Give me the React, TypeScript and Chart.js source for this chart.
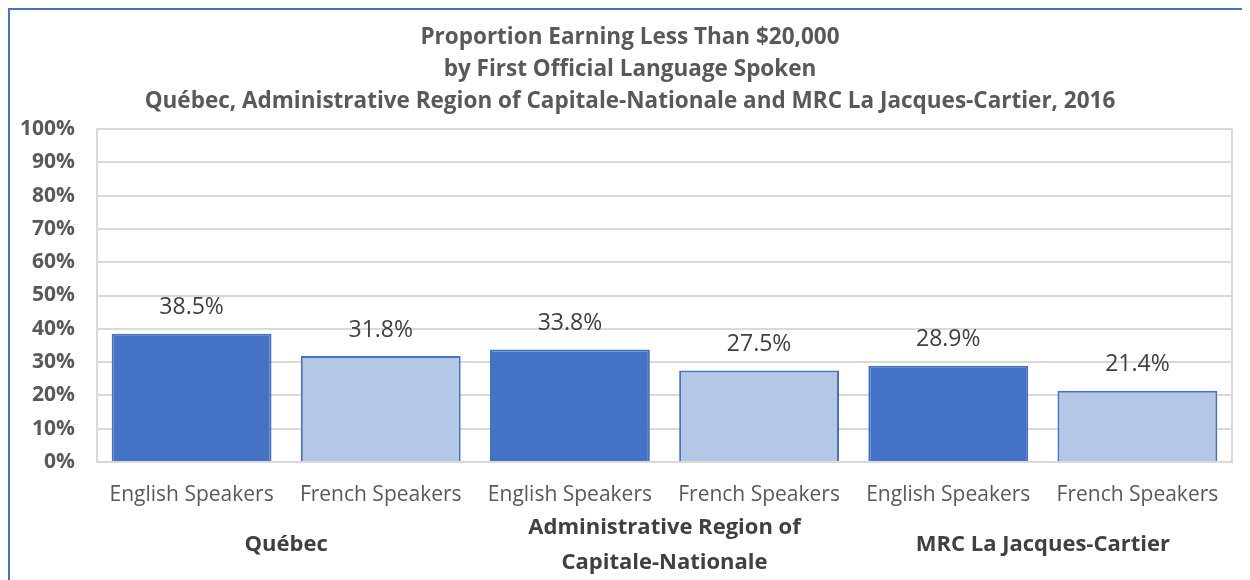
import React, { useEffect, useRef } from "react";
import { Chart, registerables } from "chart.js";

Chart.register(...registerables);

const titleLines = [
  "Proportion Earning Less Than $20,000",
  "by First Official Language Spoken",
  "Québec, Administrative Region of Capitale-Nationale and MRC La Jacques-Cartier, 2016",
];
const categories = [
  "English Speakers",
  "French Speakers",
  "English Speakers",
  "French Speakers",
  "English Speakers",
  "French Speakers",
];
const groupLabels: (string | string[])[] = [
  "Québec",
  ["Administrative Region of", "Capitale-Nationale"],
  "MRC La Jacques-Cartier",
];
const values = [38.5, 31.8, 33.8, 27.5, 28.9, 21.4];
const barColors = ["#4472C4", "#B4C7E7", "#4472C4", "#B4C7E7", "#4472C4", "#B4C7E7"];

const FONT = "'Open Sans', 'Noto Sans', sans-serif";
const GRAY = "#595959";

const dataLabels = {
  id: "dataLabels",
  afterDatasetsDraw(chart: any) {
    const ctx = chart.ctx;
    const meta = chart.getDatasetMeta(0);
    ctx.save();
    ctx.font = `23px ${FONT}`;
    ctx.fillStyle = "#404040";
    ctx.textAlign = "center";
    ctx.textBaseline = "middle";
    meta.data.forEach((bar: any, i: number) => {
      ctx.fillText(values[i].toFixed(1) + "%", bar.x, bar.y - 26);
    });
    ctx.restore();
  },
};

const plotBorder = {
  id: "plotBorder",
  afterDraw(chart: any) {
    const { ctx, chartArea } = chart;
    ctx.save();
    ctx.strokeStyle = "#D9D9D9";
    ctx.lineWidth = 2;
    ctx.beginPath();
    ctx.moveTo(chartArea.right, chartArea.top);
    ctx.lineTo(chartArea.right, chartArea.bottom);
    ctx.stroke();
    ctx.restore();
  },
};

export default function App() {
  const ref = useRef<HTMLCanvasElement | null>(null);
  useEffect(() => {
    if (!ref.current) return;
    const chart = new Chart(ref.current, {
      type: "bar",
      data: {
        labels: categories,
        datasets: [
          {
            data: values,
            backgroundColor: barColors,
            borderColor: "#4472C4",
            borderWidth: 2,
            barPercentage: 0.845,
            categoryPercentage: 1,
            xAxisID: "x",
            yAxisID: "y",
          },
        ],
      },
      options: {
        animation: false,
        responsive: false,
        maintainAspectRatio: false,
        layout: { padding: 0 },
        plugins: {
          legend: { display: false },
          tooltip: { enabled: false },
          title: {
            display: true,
            text: titleLines,
            color: GRAY,
            font: { family: FONT, size: 22.5, weight: "bold", lineHeight: 32 / 22.5 },
            padding: { top: 12, bottom: 11 },
          },
        },
        scales: {
          y: {
            min: 0,
            max: 100,
            ticks: {
              stepSize: 10,
              callback: (v: any) => v + "%",
              color: GRAY,
              font: { family: FONT, size: 21, weight: "bold" },
              padding: 22,
            },
            grid: { color: "#D9D9D9", lineWidth: 2, drawTicks: false },
            border: { color: "#D9D9D9", width: 2 },
            afterFit: (s: any) => {
              s.width = 87;
            },
          },
          spacer: {
            type: "linear",
            position: "right",
            display: true,
            ticks: { display: false },
            grid: { display: false, drawTicks: false },
            border: { display: false },
            afterFit: (s: any) => {
              s.width = 18;
            },
          },
          x: {
            weight: 0,
            ticks: {
              color: GRAY,
              font: { family: FONT, size: 21 },
              padding: 20,
              maxRotation: 0,
              autoSkip: false,
            },
            grid: { display: false, drawTicks: false },
            border: { color: "#D9D9D9", width: 2 },
            afterFit: (s: any) => {
              s.height = 52;
            },
          },
          group: {
            type: "category",
            position: "bottom",
            weight: 1,
            labels: groupLabels as any,
            offset: true,
            ticks: {
              color: "#404040",
              font: { family: FONT, size: 22, weight: "bold", lineHeight: 35 / 22 },
              padding: 13.5,
              crossAlign: "center",
              maxRotation: 0,
              autoSkip: false,
            },
            grid: { display: false, drawTicks: false },
            border: { display: false },
            afterFit: (s: any) => {
              s.height = 66;
            },
          },
        },
      },
      plugins: [dataLabels, plotBorder],
    });
    return () => chart.destroy();
  }, []);

  return (
    <div
      style={{
        width: 1242,
        height: 572,
        borderTop: "2px solid #4472C4",
        borderLeft: "2px solid #4472C4",
        boxSizing: "border-box",
        background: "#fff",
      }}
    >
      <canvas ref={ref} width={1240} height={570} style={{ display: "block", width: 1240, height: 570 }} />
    </div>
  );
}
